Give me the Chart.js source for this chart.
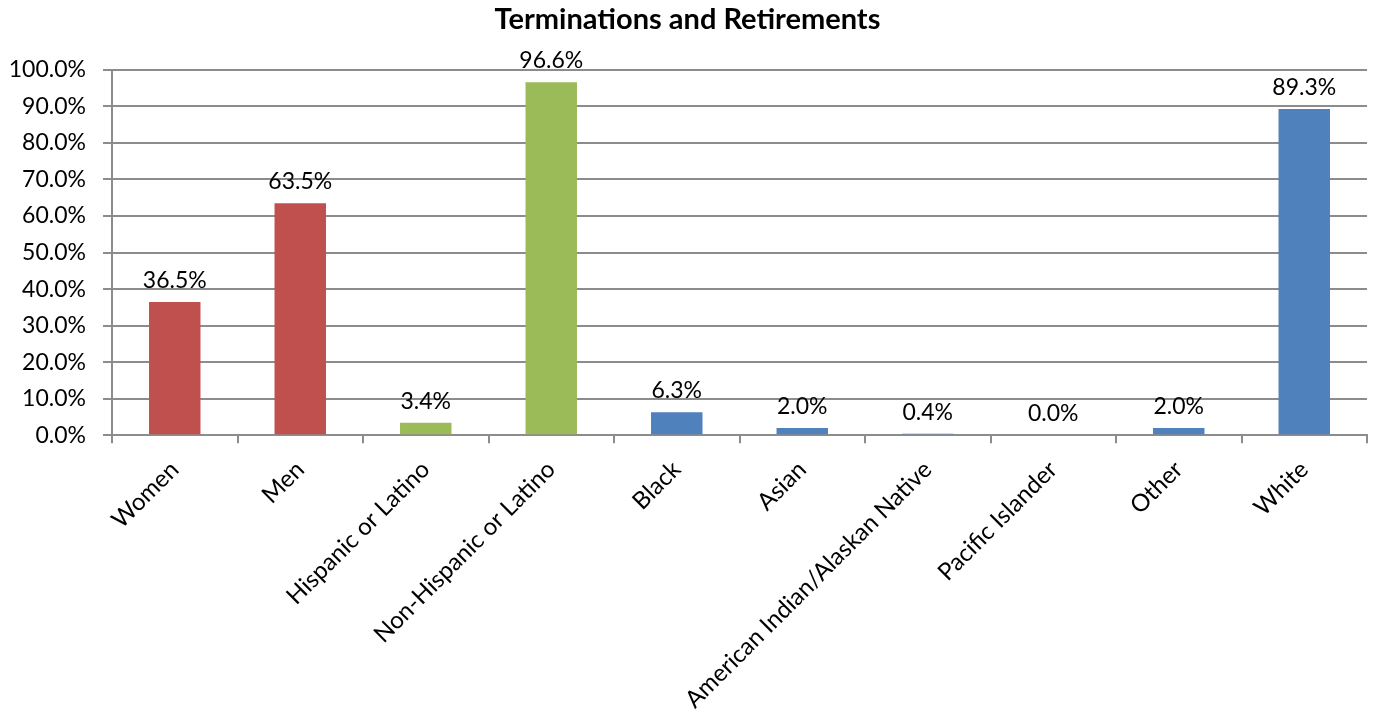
<!DOCTYPE html>
<html lang="en">
<head>
    <meta charset="UTF-8">
    <title>Terminations and Retirements</title>
    <script src="https://cdn.jsdelivr.net/npm/chart.js"></script>
    <style>
        body { margin: 0; background: #fff; }
        #wrap { width: 1374px; height: 726px; }
    </style>
</head>
<body>
<div id="wrap"><canvas id="chartCanvas"></canvas></div>
<script>
    // Categories and values (percent)
    const categories = ['Women', 'Men', 'Hispanic or Latino', 'Non-Hispanic or Latino', 'Black', 'Asian',
        'American Indian/Alaskan Native', 'Pacific Islander', 'Other', 'White'];
    const values = [36.5, 63.5, 3.4, 96.6, 6.3, 2.0, 0.4, 0.0, 2.0, 89.3];
    const barColors = ['#C0504D', '#C0504D', '#9BBB59', '#9BBB59', '#4F81BD', '#4F81BD',
        '#4F81BD', '#4F81BD', '#4F81BD', '#4F81BD'];

    const FONT = 'Lato, "Open Sans", sans-serif';

    // Draw the value above each bar
    const valueLabels = {
        id: 'valueLabels',
        afterDatasetsDraw(chart) {
            const ctx = chart.ctx;
            const meta = chart.getDatasetMeta(0);
            ctx.save();
            ctx.font = '23px ' + FONT;
            ctx.fillStyle = '#000';
            ctx.textAlign = 'center';
            ctx.textBaseline = 'bottom';
            meta.data.forEach((bar, i) => {
                ctx.fillText(values[i].toFixed(1) + '%', bar.x, bar.y - 10);
            });
            ctx.restore();
        }
    };

    const ctx = document.getElementById('chartCanvas').getContext('2d');
    new Chart(ctx, {
        type: 'bar',
        data: {
            labels: categories,
            datasets: [{
                data: values,
                backgroundColor: barColors,
                barPercentage: 0.41,
                categoryPercentage: 1.0
            }]
        },
        options: {
            responsive: true,
            maintainAspectRatio: false,
            animation: false,
            layout: { padding: { left: 8, right: 7, top: 0, bottom: 0 } },
            plugins: {
                legend: { display: false },
                tooltip: { enabled: false },
                title: {
                    display: true,
                    text: 'Terminations and Retirements',
                    color: '#000',
                    font: { family: FONT, size: 29, weight: 'bold' },
                    padding: { top: 2, bottom: 33 }
                }
            },
            scales: {
                x: {
                    offset: true,
                    afterFit: scale => { scale.paddingLeft = 0; scale.paddingRight = 0; },
                    grid: {
                        offset: true,
                        drawOnChartArea: false,
                        color: '#8c8c8c',
                        lineWidth: 2,
                        tickLength: 8
                    },
                    border: { color: '#8c8c8c', width: 2 },
                    ticks: {
                        color: '#000',
                        font: { family: FONT, size: 24 },
                        minRotation: 45,
                        maxRotation: 45,
                        autoSkip: false,
                        padding: 12
                    }
                },
                y: {
                    min: 0,
                    max: 100,
                    // fixed axis width so the plot starts at x = 112
                    afterFit: scale => { scale.width = 104; },
                    grid: {
                        color: '#8c8c8c',
                        lineWidth: 2,
                        tickLength: 9
                    },
                    border: { color: '#8c8c8c', width: 2 },
                    ticks: {
                        stepSize: 10,
                        color: '#000',
                        font: { family: FONT, size: 23 },
                        padding: 17,
                        callback: v => v.toFixed(1) + '%'
                    }
                }
            }
        },
        plugins: [valueLabels]
    });
</script>
</body>
</html>
